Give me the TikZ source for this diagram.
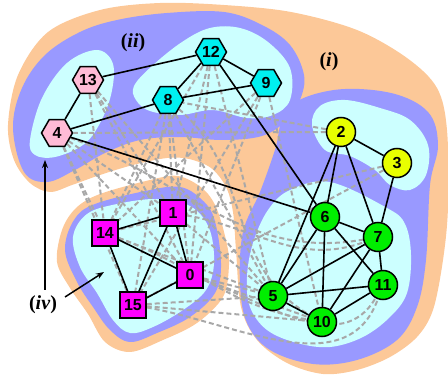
\documentclass[tikz,border=0pt]{standalone}
\usepackage{fontspec}
\setmainfont{Liberation Serif}
\newfontfamily\nodefont{Liberation Sans}
\usetikzlibrary{shapes.geometric,arrows.meta}
\definecolor{orreg}{RGB}{252,200,152}
\definecolor{blreg}{RGB}{153,153,255}
\definecolor{cyreg}{RGB}{204,255,255}
\definecolor{hexcy}{RGB}{0,240,240}
\definecolor{hexpk}{RGB}{255,187,214}
\definecolor{cyel}{RGB}{232,255,0}
\definecolor{cgr}{RGB}{0,238,0}
\definecolor{sqmg}{RGB}{255,0,255}
\definecolor{dgray}{RGB}{168,168,168}
\pgfdeclarelayer{regions}
\pgfdeclarelayer{edges}
\pgfsetlayers{regions,edges,main}
\begin{document}
\begin{tikzpicture}[x=1pt,y=-1pt,
  lbl/.style={font=\nodefont\bfseries\fontsize{16}{16}\selectfont, inner sep=0pt},
  hexn/.style={lbl, regular polygon, regular polygon sides=6, draw=black, line width=1.5pt, minimum size=31pt},
  circn/.style={lbl, circle, draw=black, line width=1.5pt, minimum size=29pt},
  sqn/.style={lbl, rectangle, draw=black, line width=1.5pt, minimum size=26pt},
  soled/.style={line width=1.6pt, black},
  dshed/.style={line width=2pt, dgray, dash pattern=on 5pt off 3pt},
  reglabel/.style={font=\fontsize{20}{20}\selectfont\bfseries, inner sep=0pt},
  arr/.style={line width=1.5pt, -{Stealth[length=8pt,width=6pt]}}
]
\useasboundingbox (0,0) rectangle (448,377);

% nodes
\node[hexn, fill=hexpk] (n13) at (88,80) {13};
\node[hexn, fill=hexpk] (n4) at (57,133) {4};
\node[hexn, fill=hexcy] (n12) at (211,52) {12};
\node[hexn, fill=hexcy] (n8) at (168,100) {8};
\node[hexn, fill=hexcy] (n9) at (266,83) {9};
\node[circn, fill=cyel] (n2) at (341,132) {2};
\node[circn, fill=cyel] (n3) at (397,163) {3};
\node[circn, fill=cgr] (n6) at (325,217) {6};
\node[circn, fill=cgr] (n7) at (378,237) {7};
\node[circn, fill=cgr] (n11) at (383,285) {11};
\node[circn, fill=cgr] (n5) at (273,296) {5};
\node[circn, fill=cgr] (n10) at (322,322) {10};
\node[sqn, fill=sqmg] (n14) at (105,233) {14};
\node[sqn, fill=sqmg] (n1) at (173,213) {1};
\node[sqn, fill=sqmg] (n0) at (190,275) {0};
\node[sqn, fill=sqmg] (n15) at (133,305) {15};

\node[reglabel] (lii) at (133,43) {(\textit{ii})};
\node[reglabel] (li) at (329,62) {(\textit{i})};
\node[reglabel] (liv) at (43,305) {(\textit{iv})};
\coordinate (a1s) at (45,290);
\coordinate (a1e) at (45,160);
\coordinate (a2s) at (65,297);
\coordinate (a2e) at (104,272);
\draw[arr] (a1s) -- (a1e);
\draw[arr] (a2s) -- (a2e);

\begin{pgfonlayer}{regions}
% big orange region (i)+(ii)
\fill[orreg] plot[smooth cycle, tension=0.55] coordinates {
 (8,125) (18,75) (48,32) (100,10) (160,3) (224,5) (291,12) (357,30) (407,58) (437,88)
 (447,130) (448,207) (443,260) (433,310) (417,337) (390,357) (357,370) (323,374)
 (287,363) (257,340) (241,307) (236,250) (233,212) (226,187) (211,168) (189,159)
 (167,158) (133,165) (100,175) (72,185) (50,192) (30,183) (14,160)};
% orange magenta region
\fill[orreg] plot[smooth cycle, tension=0.55] coordinates {
 (57,262) (62,230) (76,208) (100,194) (150,180) (178,176) (202,188) (216,207)
 (226,240) (229,265) (223,297) (197,323) (163,340) (130,352) (105,342) (88,314) (70,288)};
% blue (ii)
\fill[blreg] plot[smooth cycle, tension=0.6] coordinates {
 (13,128) (22,88) (45,55) (80,32) (117,20) (167,13) (224,12) (262,25) (290,45)
 (304,75) (300,100) (287,120) (262,136) (222,140) (180,137) (140,140) (105,153)
 (75,170) (47,182) (24,172)};
% blue (i)
\fill[blreg] plot[smooth cycle, tension=0.6] coordinates {
 (288,108) (334,90) (391,93) (428,112) (438,145) (430,185) (426,260) (417,307)
 (397,340) (357,360) (313,364) (270,350) (247,323) (240,283) (243,232) (260,192)
 (275,150)};
% blue magenta
\fill[blreg] plot[smooth cycle, tension=0.6] coordinates {
 (65,250) (74,220) (95,204) (150,190) (180,187) (200,198) (214,218) (221,263) (215,293)
 (190,317) (157,333) (130,342) (110,330) (93,307) (77,282)};
% cyan blobs
\fill[cyreg] plot[smooth cycle, tension=0.6] coordinates {
 (30,140) (42,98) (67,63) (97,50) (113,64) (111,95) (99,125) (83,145) (55,157) (35,155)};
\fill[cyreg] plot[smooth cycle, tension=0.6] coordinates {
 (134,86) (152,66) (182,42) (210,28) (240,28) (268,42) (290,68) (290,100)
 (273,115) (247,118) (213,110) (180,115) (150,111) (136,100)};
\fill[cyreg] plot[smooth cycle, tension=0.6] coordinates {
 (312,125) (320,106) (345,100) (380,108) (410,120) (428,145) (426,175) (410,190)
 (390,185) (375,170) (350,156) (325,150)};
\fill[cyreg] plot[smooth cycle, tension=0.6] coordinates {
 (290,190) (330,182) (387,208) (405,224) (411,255) (407,293) (390,317) (363,337)
 (330,347) (297,343) (267,330) (250,307) (247,277) (253,243) (268,210)};
\fill[cyreg] plot[smooth cycle, tension=0.6] coordinates {
 (73,237) (87,214) (117,204) (157,199) (190,206) (209,228) (214,263) (206,290)
 (183,310) (153,327) (130,333) (113,320) (97,293) (80,267)};
\end{pgfonlayer}

\begin{pgfonlayer}{edges}
% dashed hidden edges
\foreach \a/\b in {n4/n14, n4/n15, n4/n1, n4/n0, n13/n1, n13/n14, n13/n0,
  n8/n14, n8/n1, n8/n0, n8/n15, n8/n5, n12/n1, n12/n0, n12/n14, n12/n5,
  n9/n14, n9/n15, n9/n10, n9/n0, n2/n4, n3/n14, n3/n15, n1/n5, n0/n5,
  n0/n10, n15/n5, n15/n10, n14/n5, n2/n8, n13/n5}
  \draw[dshed] (\a) -- (\b);
\draw[dshed] (n15) to[out=-10,in=-110] (n11);
\draw[dshed] (n0) to[out=-20,in=-120] (n11);
\draw[dshed] (n14) to[out=-20,in=170] (n10);
\draw[dshed] (n1) to[out=-10,in=200] (n7);
\draw[dshed] (n4) to[out=-20,in=190] (n7);
\draw[dshed] (n8) to[out=-40,in=150] (n10);
% solid edges
\foreach \a/\b in {n13/n12, n13/n4, n4/n8, n8/n12, n8/n9, n12/n9, n12/n6, n4/n6,
  n2/n3, n2/n6, n2/n7, n2/n5, n3/n7, n6/n7, n6/n5, n6/n10, n6/n11, n7/n5,
  n7/n10, n7/n11, n5/n11, n5/n10, n10/n11, n14/n1, n14/n0, n14/n15, n1/n15,
  n1/n0, n0/n15}
  \draw[soled] (\a) -- (\b);
\end{pgfonlayer}
\end{tikzpicture}
\end{document}
